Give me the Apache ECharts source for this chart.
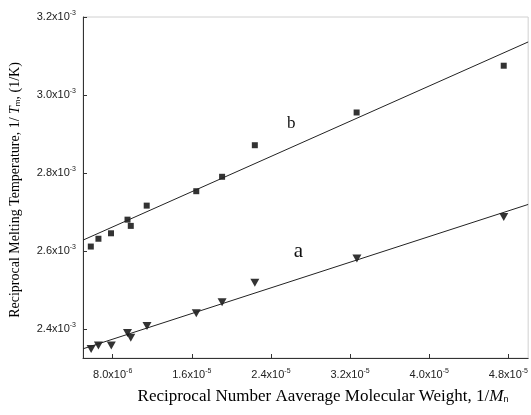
<!DOCTYPE html>
<html>
<head>
<meta charset="utf-8">
<script src="https://cdn.jsdelivr.net/npm/echarts@6/dist/echarts.min.js"></script>
<style>
  html, body { margin: 0; padding: 0; background: #fff; }
  #chart { width: 531px; height: 415px; }
</style>
</head>
<body>
<div id="chart"></div>
<script>
// x values in units of 1e-6, y values in units of 1e-3
const xB = [5.79, 6.56, 7.83, 9.50, 9.83, 11.44, 16.45, 19.06, 22.37, 32.66, 47.53];
const yB = [2.611, 2.631, 2.645, 2.680, 2.664, 2.716, 2.753, 2.790, 2.871, 2.955, 3.075];
const xA = [5.82, 6.56, 7.86, 9.50, 9.83, 11.47, 16.45, 19.06, 22.37, 32.69, 47.53];
const yA = [2.348, 2.357, 2.357, 2.389, 2.377, 2.407, 2.440, 2.468, 2.518, 2.580, 2.687];
// fitted lines (end points)
const fitB = [[5.0, 2.6275], [50.0, 3.136]];
const fitA = [[5.0, 2.3486], [50.0, 2.719]];

const xTicks = [8, 16, 24, 32, 40, 48];
const xTickLabels = ['8.0x10^-6', '1.6x10^-5', '2.4x10^-5', '3.2x10^-5', '4.0x10^-5', '4.8x10^-5'];
const yTicks = [2.4, 2.6, 2.8, 3.0, 3.2];
const yTickLabels = ['2.4x10^-3', '2.6x10^-3', '2.8x10^-3', '3.0x10^-3', '3.2x10^-3'];

function pair(xs, ys) {
  return xs.map((x, i) => [x, ys[i]]);
}
function tickText(values, labels) {
  return function (v) {
    const i = values.findIndex((t) => Math.abs(t - v) < 1e-6);
    if (i < 0) return '';
    const p = labels[i].split('^');
    return '{b|' + p[0] + '}{s|' + p[1] + '}';
  };
}
const tickRich = {
  b: { fontFamily: 'Liberation Sans', fontSize: 11, color: '#222' },
  s: { fontFamily: 'Liberation Sans', fontSize: 7, color: '#222', padding: [0, 0, 7, 0] }
};
const serif = 'Liberation Serif';

const myChart = echarts.init(document.getElementById('chart'));
const option = {
  animation: false,
  grid: {
    left: 83, right: 1, top: 17, bottom: 57,
    show: true, borderColor: '#d0d0d0', borderWidth: 1
  },
  xAxis: {
    type: 'value',
    min: 5, max: 50,
    splitLine: { show: false },
    axisLine: { lineStyle: { color: '#333', width: 1 } },
    axisTick: { inside: true, length: 4, customValues: xTicks, lineStyle: { color: '#333' } },
    axisLabel: {
      customValues: xTicks, margin: 10,
      formatter: tickText(xTicks, xTickLabels), rich: tickRich
    }
  },
  yAxis: {
    type: 'value',
    min: 2.325, max: 3.2,
    splitLine: { show: false },
    axisLine: { lineStyle: { color: '#333', width: 1 } },
    axisTick: { inside: true, length: 4, customValues: yTicks, lineStyle: { color: '#333' } },
    axisLabel: {
      customValues: yTicks, margin: 7,
      formatter: tickText(yTicks, yTickLabels), rich: tickRich
    }
  },
  graphic: [
    {
      type: 'text', x: 323, y: 397,
      style: {
        text: '{r|Reciprocal Number Aaverage Molecular Weight, 1/}{i|M}{sub|n}',
        align: 'center', verticalAlign: 'middle',
        rich: {
          r: { fontFamily: serif, fontSize: 17, color: '#111' },
          i: { fontFamily: serif, fontSize: 17, fontStyle: 'italic', color: '#111' },
          sub: { fontFamily: 'Liberation Sans', fontSize: 9, color: '#111', padding: [6, 0, 0, 0] }
        }
      }
    },
    {
      type: 'text', x: 15, y: 190, rotation: Math.PI / 2,
      style: {
        text: '{r|Reciprocal Melting Temperature, 1/ }{i|T}{sub|m}{r|, (1/K)}',
        align: 'center', verticalAlign: 'middle',
        rich: {
          r: { fontFamily: serif, fontSize: 14, color: '#111' },
          i: { fontFamily: serif, fontSize: 14, fontStyle: 'italic', color: '#111' },
          sub: { fontFamily: 'Liberation Sans', fontSize: 8, color: '#111', padding: [6, 0, 0, 0] }
        }
      }
    }
  ],
  series: [
    {
      name: 'b', type: 'scatter', data: pair(xB, yB),
      symbol: 'rect', symbolSize: 6,
      itemStyle: { color: '#000' },
      markPoint: {
        symbol: 'circle', symbolSize: 1,
        itemStyle: { color: 'rgba(0,0,0,0)' },
        label: { show: true, position: 'inside', formatter: 'b', fontFamily: serif, fontSize: 17, color: '#111' },
        data: [{ coord: [26.05, 2.926] }]
      }
    },
    {
      name: 'a', type: 'scatter', data: pair(xA, yA),
      symbol: 'triangle', symbolRotate: 180, symbolSize: [9, 8],
      itemStyle: { color: '#000' },
      markPoint: {
        symbol: 'circle', symbolSize: 1,
        itemStyle: { color: 'rgba(0,0,0,0)' },
        label: { show: true, position: 'inside', formatter: 'a', fontFamily: serif, fontSize: 21, color: '#111' },
        data: [{ coord: [26.78, 2.598] }]
      }
    },
    {
      type: 'line', data: fitB, showSymbol: false, silent: true,
      lineStyle: { color: '#222', width: 1 }
    },
    {
      type: 'line', data: fitA, showSymbol: false, silent: true,
      lineStyle: { color: '#222', width: 1 }
    }
  ]
};
myChart.setOption(option);
</script>
</body>
</html>
